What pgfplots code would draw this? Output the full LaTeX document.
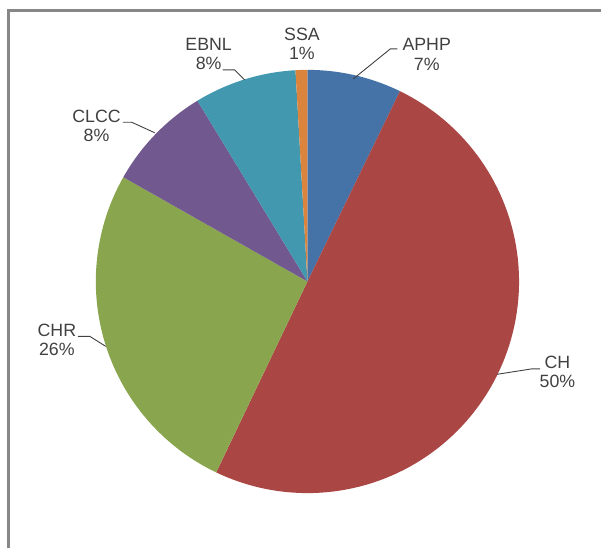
\documentclass[border=0pt]{standalone}
\usepackage{pgfplots}
\usepackage{pgfplotstable}
\pgfplotsset{compat=1.18}
\usepackage{fontspec}
\setmainfont{Liberation Sans}
\definecolor{aphp}{HTML}{4572A7}
\definecolor{ch}{HTML}{AA4643}
\definecolor{chr}{HTML}{89A54E}
\definecolor{clcc}{HTML}{71588F}
\definecolor{ebnl}{HTML}{4198AF}
\definecolor{ssa}{HTML}{DB843D}
\definecolor{txt}{HTML}{404040}
\definecolor{frame}{HTML}{878787}

% share of each category (percent)
\pgfplotstableread{
name value pct color
APHP 7.2 7 aphp
CH 49.9 50 ch
CHR 26.1 26 chr
CLCC 8.1 8 clcc
EBNL 7.8 8 ebnl
SSA 0.9 1 ssa
}\piedata

\begin{document}
\begin{tikzpicture}
\begin{axis}[
  scale only axis, width=602pt, height=549pt,
  xmin=0, xmax=602, ymin=0, ymax=549, y dir=reverse,
  hide axis, clip=false,
]
\path (axis cs:0,0) rectangle (axis cs:602,549);
% frame
\draw[frame, line width=2.2pt] (axis cs:8.5,549) -- (axis cs:8.5,10.5) -- (axis cs:602,10.5);

\def\piecum{0}
\pgfplotsforeachungrouped \i in {0,...,5}{%
  \pgfplotstablegetelem{\i}{value}\of\piedata \let\pieV\pgfplotsretval
  \pgfplotstablegetelem{\i}{color}\of\piedata \let\pieC\pgfplotsretval
  \pgfmathsetmacro\pieA{\piecum*3.6}%
  \pgfmathsetmacro\pieB{(\piecum+\pieV)*3.6}%
  \edef\pietmp{\noexpand\addplot[fill=\pieC, draw=none, domain=\pieA:\pieB, samples=100]
     ({308+212*sin(x)},{282-212*cos(x)}) -- (axis cs:308,282) -- cycle;}%
  \pietmp
  \pgfmathsetmacro\piecum{\piecum+\pieV}%
}

% leader lines
\begin{scope}[draw=txt, line width=0.9pt]
\draw (axis cs:354,79) -- (axis cs:391,49) -- (axis cs:398,49);
\draw (axis cs:245,80) -- (axis cs:235,70) -- (axis cs:223,70);
\draw (axis cs:155,133) -- (axis cs:132,122.5) -- (axis cs:123,122.5);
\draw (axis cs:106,347) -- (axis cs:90,337) -- (axis cs:78,337);
\draw (axis cs:498,375) -- (axis cs:533,369.5) -- (axis cs:541,369.5);
\end{scope}

% labels
\begin{scope}[every node/.style={text=txt, align=center, inner sep=0pt,
   font=\fontsize{17.8}{19.2}\selectfont}]
\node at (axis cs:427.5,54.5) {APHP\\7\%};
\node at (axis cs:558.5,372.5) {CH\\50\%};
\node at (axis cs:57,340.5) {CHR\\26\%};
\node at (axis cs:96.7,126) {CLCC\\8\%};
\node at (axis cs:209,54) {EBNL\\8\%};
\node at (axis cs:302.5,44) {SSA\\1\%};
\end{scope}
\end{axis}
\end{tikzpicture}
\end{document}
